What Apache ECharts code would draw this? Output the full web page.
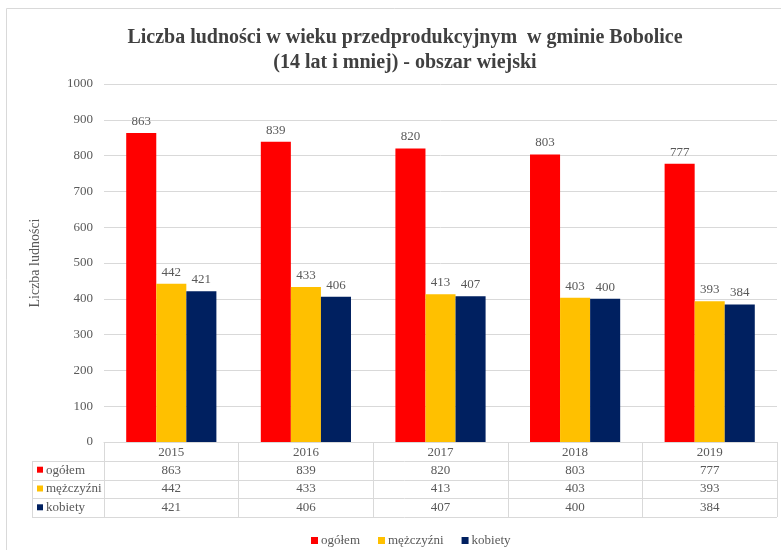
<!DOCTYPE html>
<html>
<head>
<meta charset="utf-8">
<script src="https://cdn.jsdelivr.net/npm/echarts@6/dist/echarts.min.js"></script>
<style>
  html, body { margin: 0; padding: 0; background: #fff; }
  #myChart { width: 781px; height: 550px; }
</style>
</head>
<body>
<div id="myChart"></div>
<script>
  // dane
  var years = ['2015', '2016', '2017', '2018', '2019'];
  var seriesNames = ['ogółem', 'mężczyźni', 'kobiety'];
  var ogolem = [863, 839, 820, 803, 777];
  var mezczyzni = [442, 433, 413, 403, 393];
  var kobiety = [421, 406, 407, 400, 384];
  var yTicks = [0, 100, 200, 300, 400, 500, 600, 700, 800, 900, 1000];

  var colors = ['#FF0000', '#FFC000', '#002060'];
  var dataArr = [ogolem, mezczyzni, kobiety];
  var font = 'Liberation Serif';
  var textColor = '#595959';
  var lineColor = '#d9d9d9';

  // uklad siatki i tabeli
  var gridLeft = 104, gridRight = 777, axisY = 442;
  var rowH = 18.8;
  var tableLeft = 32;

  var myChart = echarts.init(document.getElementById('myChart'));

  function funseries() {
    var serie = [];
    for (var i = 0; i < dataArr.length; i++) {
      serie.push({
        name: seriesNames[i],
        type: 'bar',
        data: dataArr[i],
        barGap: '0%',
        barCategoryGap: '33%',
        itemStyle: { color: colors[i] },
        label: {
          show: true,
          position: 'top',
          distance: 5,
          fontFamily: font,
          fontSize: 13,
          color: textColor
        }
      });
    }
    return serie;
  }

  // tabela danych pod osia X
  function tableGraphic() {
    var g = [];
    var colW = (gridRight - gridLeft) / years.length;
    // ramka wykresu
    g.push({ type: 'rect', shape: { x: 6.5, y: 8.5, width: 800, height: 600 },
      style: { fill: 'none', stroke: lineColor, lineWidth: 1 }, silent: true });
    // linie poziome
    for (var r = 1; r <= seriesNames.length + 1; r++) {
      var y = Math.round(axisY + r * rowH) + 0.5;
      g.push({ type: 'line', shape: { x1: tableLeft, y1: y, x2: gridRight, y2: y },
        style: { stroke: lineColor, lineWidth: 1 }, silent: true });
    }
    // lewa krawedz
    g.push({ type: 'line', shape: { x1: tableLeft + 0.5, y1: Math.round(axisY + rowH) + 0.5, x2: tableLeft + 0.5, y2: Math.round(axisY + 4 * rowH) + 0.5 },
      style: { stroke: lineColor, lineWidth: 1 }, silent: true });
    for (var s = 0; s < seriesNames.length; s++) {
      var cy = axisY + (s + 1.5) * rowH;
      g.push({ type: 'rect', shape: { x: tableLeft + 5, y: cy - 3.5, width: 6, height: 6 },
        style: { fill: colors[s] }, silent: true });
      g.push({ type: 'text', x: tableLeft + 14, y: cy,
        style: { text: seriesNames[s], font: '13px "' + font + '"', fill: textColor, verticalAlign: 'middle' }, silent: true });
      for (var c = 0; c < years.length; c++) {
        g.push({ type: 'text', x: gridLeft + (c + 0.5) * colW, y: cy,
          style: { text: String(dataArr[s][c]), font: '13px "' + font + '"', fill: textColor, align: 'center', verticalAlign: 'middle' }, silent: true });
      }
    }
    return g;
  }

  myChart.setOption({
    animation: false,
    title: {
      text: 'Liczba ludności w wieku przedprodukcyjnym  w gminie Bobolice\n(14 lat i mniej) - obszar wiejski',
      left: 400,
      top: 20,
      textAlign: 'center',
      textStyle: {
        fontFamily: font,
        fontSize: 20,
        fontWeight: 'bold',
        color: '#404040',
        lineHeight: 25
      }
    },
    legend: {
      data: seriesNames,
      left: 306,
      top: 529,
      itemWidth: 7,
      itemHeight: 7,
      itemGap: 18,
      icon: 'rect',
      textStyle: { fontFamily: font, fontSize: 13, color: textColor, padding: [0, 0, 0, -2] }
    },
    grid: {
      left: gridLeft,
      right: 781 - gridRight,
      top: 84,
      bottom: 550 - axisY
    },
    xAxis: {
      type: 'category',
      data: years,
      axisLine: { lineStyle: { color: lineColor, width: 1 } },
      axisTick: { show: true, length: Math.round(4 * rowH), lineStyle: { color: lineColor } },
      axisLabel: { fontFamily: font, fontSize: 13, color: textColor, margin: 4 }
    },
    yAxis: {
      type: 'value',
      min: yTicks[0],
      max: yTicks[yTicks.length - 1],
      interval: yTicks[1] - yTicks[0],
      name: 'Liczba ludności',
      nameLocation: 'middle',
      nameGap: 62,
      nameTextStyle: { fontFamily: font, fontSize: 14, color: textColor },
      axisLabel: {
        fontFamily: font, fontSize: 13, color: textColor, margin: 11,
        formatter: function (value) { return String(value); }
      },
      axisLine: { show: false },
      axisTick: { show: false },
      splitLine: { lineStyle: { color: lineColor } }
    },
    graphic: tableGraphic(),
    series: funseries()
  });
</script>
</body>
</html>
